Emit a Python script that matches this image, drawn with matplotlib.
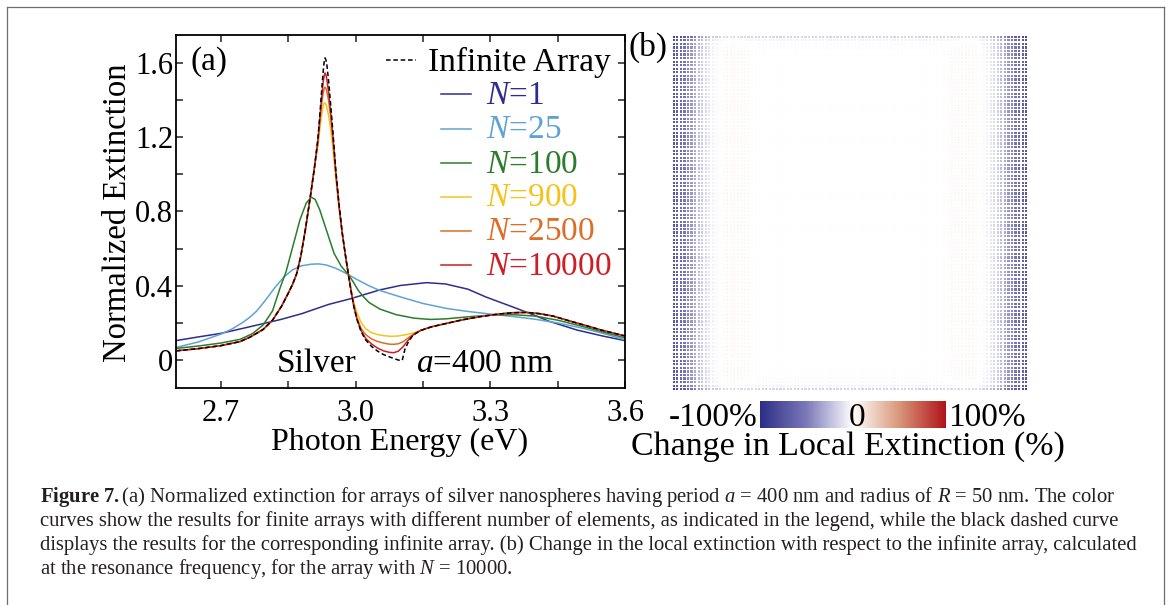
import numpy as np
import matplotlib
matplotlib.use("Agg")
import matplotlib.pyplot as plt
from matplotlib.lines import Line2D
from matplotlib.colors import LinearSegmentedColormap, Normalize
from matplotlib.cm import ScalarMappable
from matplotlib.ticker import MultipleLocator

plt.rcParams.update({
    "font.family": "serif",
    "font.serif": ["Liberation Serif", "DejaVu Serif"],
    "mathtext.fontset": "custom",
    "mathtext.rm": "Liberation Serif",
    "mathtext.it": "Liberation Serif:italic",
    "mathtext.bf": "Liberation Serif:bold",
})

# ---------------- spectra: photon energy (eV) vs normalized extinction ----------------
# rising wing shared by the large arrays and the infinite array
rise_E = [2.600, 2.650, 2.700, 2.743, 2.765, 2.794, 2.815, 2.835, 2.850, 2.860,
          2.869, 2.878, 2.888, 2.899, 2.908]
rise_V = [0.050, 0.062, 0.078, 0.100, 0.124, 0.165, 0.215, 0.290, 0.360, 0.410,
          0.467, 0.560, 0.700, 0.877, 1.030]
# high-energy tail shared by the large arrays and the infinite array
tail_E = [3.145, 3.170, 3.203, 3.240, 3.277, 3.315, 3.348, 3.380, 3.410, 3.440,
          3.475, 3.510, 3.550, 3.600]
tail_V = [0.160, 0.180, 0.198, 0.218, 0.234, 0.247, 0.255, 0.257, 0.250, 0.237,
          0.212, 0.188, 0.160, 0.130]

inf_E = [2.916, 2.921, 2.925, 2.928, 2.930, 2.932, 2.934, 2.936, 2.940, 2.945,
         2.950, 2.956, 2.963, 2.970, 2.977, 2.984, 2.990, 2.996, 3.003, 3.012,
         3.022, 3.035, 3.048, 3.062, 3.078, 3.092, 3.100, 3.104, 3.110, 3.118, 3.128]
inf_V = [1.190, 1.340, 1.470, 1.560, 1.605, 1.627, 1.615, 1.590, 1.500, 1.360,
         1.210, 1.020, 0.840, 0.690, 0.570, 0.460, 0.370, 0.290, 0.220, 0.155,
         0.110, 0.075, 0.050, 0.030, 0.015, 0.003, -0.003, 0.000, 0.060, 0.100, 0.135]

n10000_E = [2.916, 2.921, 2.925, 2.928, 2.930, 2.932, 2.934, 2.936, 2.940, 2.945,
            2.950, 2.956, 2.963, 2.970, 2.977, 2.984, 2.990, 2.996, 3.003, 3.012,
            3.022, 3.035, 3.048, 3.062, 3.075, 3.085, 3.095, 3.105, 3.113, 3.120, 3.128]
n10000_V = [1.185, 1.320, 1.430, 1.500, 1.530, 1.546, 1.535, 1.510, 1.440, 1.320,
            1.190, 1.010, 0.835, 0.690, 0.570, 0.460, 0.370, 0.290, 0.220, 0.160,
            0.118, 0.088, 0.066, 0.050, 0.042, 0.040, 0.048, 0.070, 0.095, 0.115, 0.135]

n2500_E = n10000_E
n2500_V = [1.170, 1.300, 1.390, 1.440, 1.462, 1.469, 1.462, 1.445, 1.395, 1.300,
           1.175, 1.000, 0.830, 0.685, 0.570, 0.460, 0.372, 0.295, 0.228, 0.172,
           0.138, 0.115, 0.101, 0.092, 0.086, 0.085, 0.088, 0.098, 0.112, 0.125, 0.138]

n900_E = [2.916, 2.921, 2.925, 2.928, 2.930, 2.932, 2.935, 2.940, 2.945, 2.950,
          2.956, 2.963, 2.970, 2.977, 2.984, 2.990, 2.996, 3.003, 3.012, 3.022,
          3.035, 3.050, 3.065, 3.080, 3.095, 3.110, 3.128]
n900_V = [1.150, 1.260, 1.330, 1.370, 1.383, 1.385, 1.370, 1.315, 1.235, 1.125,
          0.975, 0.820, 0.680, 0.570, 0.460, 0.380, 0.310, 0.255, 0.205, 0.170,
          0.148, 0.137, 0.131, 0.128, 0.130, 0.136, 0.146]

n100_E = [2.600, 2.650, 2.700, 2.743, 2.770, 2.794, 2.815, 2.832, 2.845, 2.860,
          2.876, 2.890, 2.901, 2.910, 2.920, 2.935, 2.952, 2.968, 2.984, 2.995,
          3.006, 3.018, 3.030, 3.054, 3.090, 3.130, 3.166, 3.200, 3.250, 3.300,
          3.348, 3.400, 3.450, 3.500, 3.550, 3.600]
n100_V = [0.063, 0.076, 0.092, 0.112, 0.142, 0.189, 0.265, 0.390, 0.475, 0.610,
          0.755, 0.845, 0.877, 0.865, 0.810, 0.700, 0.575, 0.505, 0.460, 0.420,
          0.375, 0.340, 0.310, 0.275, 0.245, 0.226, 0.219, 0.222, 0.233, 0.242,
          0.245, 0.237, 0.215, 0.185, 0.152, 0.120]

n25_E = [2.600, 2.650, 2.700, 2.725, 2.750, 2.765, 2.780, 2.800, 2.820, 2.840,
         2.860, 2.880, 2.900, 2.917, 2.935, 2.955, 2.970, 2.984, 3.000, 3.030,
         3.054, 3.100, 3.150, 3.203, 3.250, 3.300, 3.350, 3.400, 3.450, 3.500,
         3.550, 3.600]
n25_V = [0.068, 0.098, 0.140, 0.168, 0.205, 0.232, 0.265, 0.325, 0.390, 0.447,
         0.487, 0.508, 0.516, 0.518, 0.512, 0.495, 0.478, 0.460, 0.438, 0.400,
         0.375, 0.340, 0.305, 0.278, 0.262, 0.248, 0.235, 0.220, 0.200, 0.175,
         0.145, 0.110]

n1_E = [2.600, 2.650, 2.700, 2.765, 2.832, 2.880, 2.940, 2.988, 3.054, 3.100,
        3.158, 3.200, 3.250, 3.290, 3.348, 3.400, 3.430, 3.493, 3.550, 3.600]
n1_V = [0.105, 0.125, 0.144, 0.180, 0.218, 0.250, 0.300, 0.330, 0.378, 0.402,
        0.417, 0.410, 0.382, 0.340, 0.288, 0.240, 0.210, 0.162, 0.130, 0.105]

labels = ["$N$=1", "$N$=25", "$N$=100", "$N$=900", "$N$=2500", "$N$=10000"]
colors = ["#2e2d8f", "#5fa3d3", "#2b7d2b", "#f4c41c", "#dc6e28", "#cc1f26"]

# ---------------- local extinction change (%) for the N = 10000 array ----------------
# value per column, counted from the nearest left/right edge (cols 0..49)
col_edge = [-72, -66, -60, -53, -46, -39, -32, -25, -19, -14, -9, -5, -2, 1, 3,
            4, 4, 4, 4, 3, 3, 2, 1, 1, 0] + [0] * 25
# extra offset per row, counted from the nearest top/bottom edge (rows 0..49)
row_edge = [-16, -5, -2, -1] + [0] * 46

W, H = 1170, 605
fig = plt.figure(figsize=(W / 100, H / 100), dpi=100)


def fx(px):
    return px / W


def fy(py):
    return 1 - py / H


# outer frame of the figure box
frame_kw = dict(color="#6e6e6e", lw=0.9, transform=fig.transFigure)
fig.add_artist(Line2D([fx(7), fx(7)], [fy(7), 0], **frame_kw))
fig.add_artist(Line2D([fx(7), fx(1164)], [fy(7), fy(7)], **frame_kw))
fig.add_artist(Line2D([fx(1164), fx(1164)], [fy(7), 0], **frame_kw))

# ---------------- panel (a) ----------------
ax = fig.add_axes([fx(176), fy(388), fx(625) - fx(176), (388 - 35) / H])

curves = [
    (n1_E, n1_V),
    (n25_E, n25_V),
    (n100_E, n100_V),
    (rise_E + n900_E + tail_E, rise_V + n900_V + tail_V),
    (rise_E + n2500_E + tail_E, rise_V + n2500_V + tail_V),
    (rise_E + n10000_E + tail_E, rise_V + n10000_V + tail_V),
]
for (e, v), c in zip(curves, colors):
    ax.plot(e, v, color=c, lw=1.1, solid_joinstyle="round")
ax.plot(rise_E + inf_E + tail_E, rise_V + inf_V + tail_V, color="black", lw=1.1,
        linestyle=(0, (3.0, 1.8)))

ax.set_xlim(2.6, 3.6)
ax.set_ylim(-0.15, 1.75)
ax.xaxis.set_minor_locator(MultipleLocator(0.15))
ax.yaxis.set_minor_locator(MultipleLocator(0.2))
ax.set_xticks([2.7, 3.0, 3.3, 3.6])
ax.set_xticklabels(["2.7", "3.0", "3.3", "3.6"])
ax.set_yticks([0, 0.4, 0.8, 1.2, 1.6])
ax.set_yticklabels(["0", "0.4", "0.8", "1.2", "1.6"])
ax.tick_params(which="both", direction="in", top=True, right=True, width=1.1,
               length=5, labelsize=22, color="#222222")
ax.tick_params(axis="x", pad=8)
ax.tick_params(axis="y", pad=2)
for s in ax.spines.values():
    s.set_linewidth(1.3)

fig.text(fx(118), fy(213), "Normalized Extinction", rotation=90, ha="center",
         va="center", fontsize=23.5)
fig.text(fx(400), fy(450), "Photon Energy (eV)", ha="center", va="baseline",
         fontsize=23)

fig.text(fx(190), fy(62), "(a)", ha="left", va="center", fontsize=24)
fig.text(fx(277), fy(372), "Silver", ha="left", va="baseline", fontsize=24)
fig.text(fx(416), fy(372), "$a$=400 nm", ha="left", va="baseline", fontsize=24)

# legend, laid out row by row
fig.add_artist(Line2D([fx(386), fx(416)], [fy(60), fy(60)], color="black", lw=1.1,
                      linestyle=(0, (3.0, 1.8)), transform=fig.transFigure))
fig.text(fx(428), fy(70.5), "Infinite Array", ha="left", va="baseline", fontsize=24)
for k, (lab, c) in enumerate(zip(labels, colors)):
    yb = 104.5 + 34 * k
    fig.add_artist(Line2D([fx(441), fx(471)], [fy(yb - 10), fy(yb - 10)], color=c,
                          lw=1.1, transform=fig.transFigure))
    fig.text(fx(486), fy(yb), lab, ha="left", va="baseline", fontsize=24, color=c)

# ---------------- panel (b) ----------------
cmap = LinearSegmentedColormap.from_list(
    "change", ["#2c2e86", "#7c79b8", "#ffffff", "#d8967a", "#b01319"])
norm = Normalize(-100, 100)

n_side = 100
idx = np.arange(n_side)
d_col = np.minimum(idx, n_side - 1 - idx)
field = (np.array(col_edge)[d_col][None, :] + np.array(row_edge)[d_col][:, None])
field = np.clip(field, -100, 100)
jj, ii = np.meshgrid(idx, idx)

axb = fig.add_axes([fx(672), fy(391), fx(1028) - fx(672), (391 - 35) / H])
axb.scatter(jj.ravel(), ii.ravel(), c=field.ravel(), cmap=cmap, norm=norm,
            marker="s", s=2.6, linewidths=0)
axb.set_xlim(-0.5, n_side - 0.5)
axb.set_ylim(n_side - 0.5, -0.5)
axb.axis("off")
fig.text(fx(668), fy(47), "(b)", ha="right", va="center", fontsize=24)

cax = fig.add_axes([fx(760), fy(427.7), fx(946) - fx(760), 26.7 / H])
cb = fig.colorbar(ScalarMappable(norm=norm, cmap=cmap), cax=cax,
                  orientation="horizontal")
cb.set_ticks([])
cb.outline.set_visible(False)
fig.text(fx(758), fy(426), "-100%", ha="right", va="baseline", fontsize=24)
fig.text(fx(856.7), fy(426), "0", ha="center", va="baseline", fontsize=24)
fig.text(fx(948), fy(426), "100%", ha="left", va="baseline", fontsize=24)
fig.text(fx(847.5), fy(455), "Change in Local Extinction (%)", ha="center",
         va="baseline", fontsize=24.5)

# ---------------- caption ----------------
caption = [
    r"$\mathbf{Figure\ 7.}$(a) Normalized extinction for arrays of silver nanospheres "
    r"having period $a$ = 400 nm and radius of $R$ = 50 nm. The color",
    "curves show the results for finite arrays with different number of elements, "
    "as indicated in the legend, while the black dashed curve",
    "displays the results for the corresponding infinite array. (b) Change in the "
    "local extinction with respect to the infinite array, calculated",
    r"at the resonance frequency, for the array with $N$ = 10000.",
]
# size the caption so the first and third lines land near their printed widths
renderer = fig.canvas.get_renderer()
scales = []
for line, target in ((caption[0], 1083), (caption[2], 1085)):
    probe = fig.text(0, 0, line, fontsize=12)
    scales.append(target / probe.get_window_extent(renderer).width)
    probe.remove()
cap_size = 12 * float(np.mean(scales))
for k, line in enumerate(caption):
    fig.text(fx(40), fy(502 + 24 * k), line, ha="left", va="baseline",
             fontsize=cap_size, color="#231f20")

fig.savefig("out.png", dpi=100)
